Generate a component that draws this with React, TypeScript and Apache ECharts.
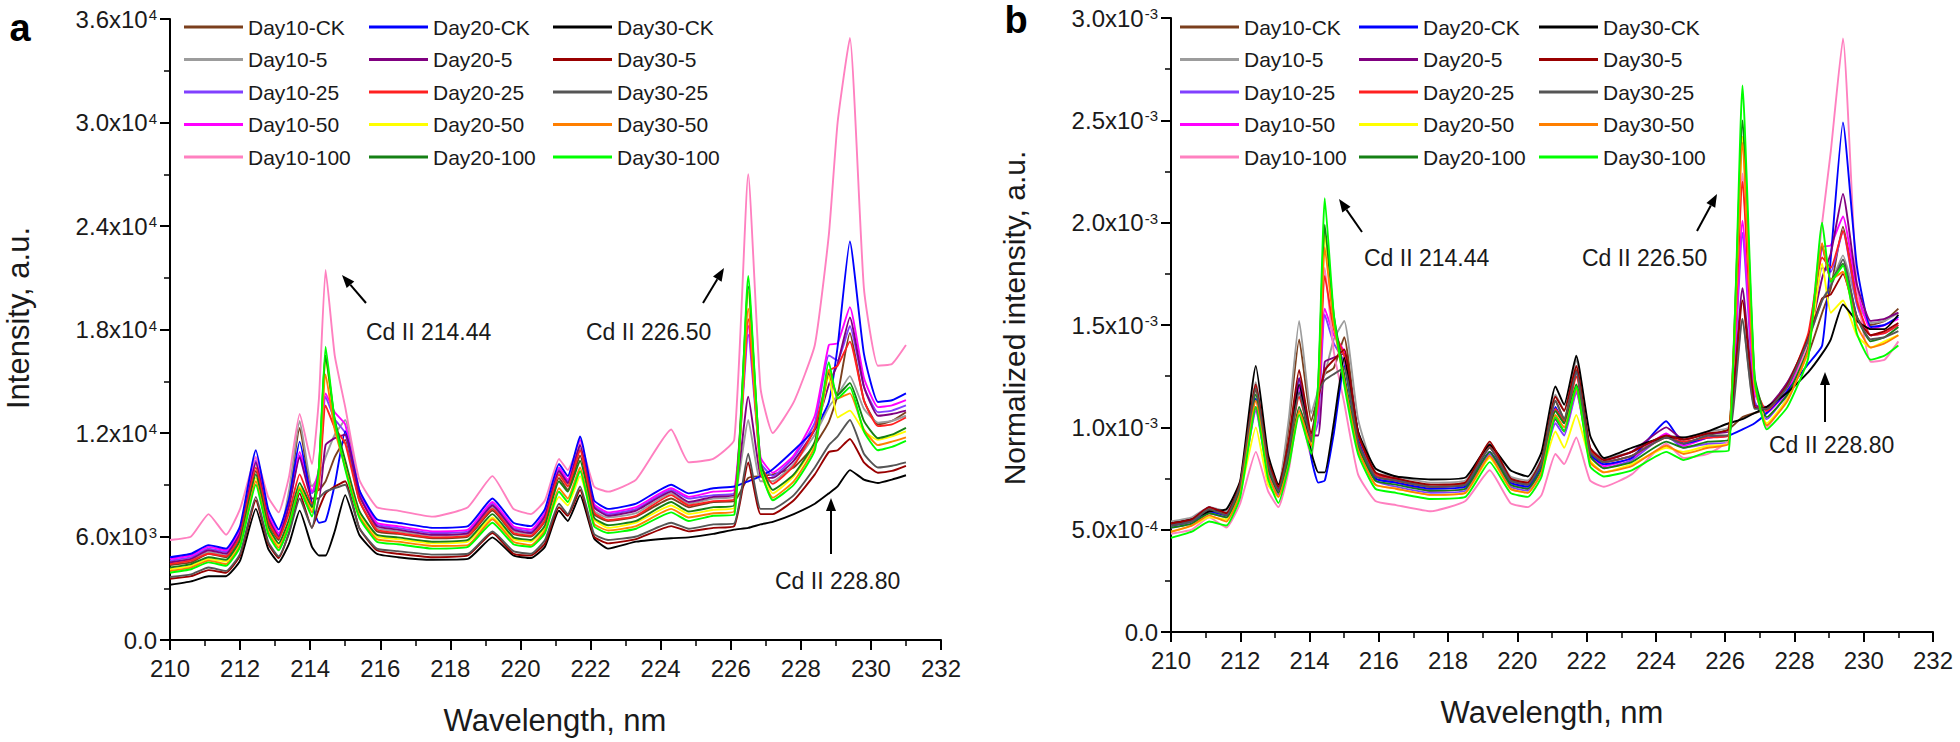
import React, { useEffect, useRef } from "react";
import * as echarts from "echarts";

// Wavelength grid (nm) shared by all series
const WAVELENGTHS = [210.0, 210.6, 211.1, 211.6, 212.0, 212.45, 212.8, 213.1, 213.4, 213.7, 214.05, 214.25, 214.44, 214.7, 215.0, 215.4, 215.9, 216.5, 217.5, 218.5, 219.2, 219.8, 220.3, 220.7, 221.1, 221.35, 221.7, 222.1, 222.5, 223.3, 224.3, 224.8, 225.5, 226.1, 226.5, 226.85, 227.2, 227.8, 228.4, 228.8, 229.05, 229.4, 229.8, 230.2, 230.6, 231.0];

const SERIES_NAMES = ["Day10-CK", "Day10-5", "Day10-25", "Day10-50", "Day10-100", "Day20-CK", "Day20-5", "Day20-25", "Day20-50", "Day20-100", "Day30-CK", "Day30-5", "Day30-25", "Day30-50", "Day30-100"];
const SERIES_COLORS = ["#7b3f1d", "#9c9c9c", "#8040ff", "#ff00ff", "#ff80c0", "#0000ff", "#800080", "#ff2020", "#ffff00", "#158015", "#000000", "#990000", "#555555", "#ff7f00", "#00ff00"];

// Panel a: intensity, in units of 10^3 a.u.
const A_DAY10_CK = [4.35, 4.5, 5.0, 4.8, 6.0, 9.8, 6.8, 5.8, 8.4, 12.3, 8.6, 8.7, 9.2, 10.6, 11.6, 8.1, 6.3, 6.15, 5.9, 6.0, 7.5, 6.15, 6.0, 6.9, 9.4, 8.7, 10.7, 7.3, 6.9, 7.15, 8.2, 7.7, 8.0, 8.05, 9.4, 9.5, 9.6, 10.0, 11.3, 12.65, 14.2, 17.8, 13.9, 12.5, 12.7, 13.2];
const A_DAY10_5 = [4.5, 4.65, 5.1, 4.9, 6.1, 10.2, 7.05, 6.0, 8.7, 12.7, 8.9, 9.5, 10.6, 11.9, 12.75, 8.7, 6.5, 6.3, 6.05, 6.15, 7.7, 6.3, 6.15, 7.1, 9.7, 9.0, 11.1, 7.5, 7.1, 7.35, 8.5, 7.9, 8.2, 8.3, 12.75, 9.2, 9.2, 10.2, 11.9, 13.5, 14.2, 15.3, 13.4, 12.6, 12.7, 13.0];
const A_DAY10_25 = [4.6, 4.8, 5.3, 5.1, 6.3, 10.4, 7.2, 6.1, 7.9, 10.7, 8.5, 9.4, 14.1, 12.8, 12.0, 8.5, 6.7, 6.5, 6.2, 6.3, 7.9, 6.5, 6.3, 7.3, 9.9, 9.2, 11.4, 7.8, 7.3, 7.6, 8.7, 8.2, 8.4, 8.5, 17.7, 10.3, 9.5, 10.6, 12.6, 16.5, 16.2, 18.2, 14.7, 13.2, 13.3, 13.6];
const A_DAY10_50 = [4.7, 4.9, 5.4, 5.2, 6.4, 10.6, 7.3, 6.2, 8.1, 10.9, 8.6, 9.9, 14.3, 13.2, 12.5, 8.7, 6.8, 6.6, 6.3, 6.4, 8.0, 6.6, 6.4, 7.4, 10.0, 9.3, 11.6, 7.9, 7.4, 7.7, 8.8, 8.3, 8.6, 8.7, 18.2, 10.6, 9.7, 10.7, 13.0, 17.1, 17.2, 19.3, 15.2, 13.5, 13.6, 13.9];
const A_DAY10_100 = [5.8, 6.0, 7.3, 6.1, 7.6, 10.6, 8.3, 7.4, 9.5, 13.1, 10.2, 14.0, 21.45, 16.5, 13.5, 9.3, 7.7, 7.5, 7.15, 7.7, 9.5, 7.6, 7.3, 8.1, 10.5, 9.85, 11.4, 8.9, 8.6, 9.3, 12.2, 10.3, 10.5, 11.6, 27.0, 14.6, 12.0, 13.8, 17.1, 23.5, 30.0, 34.9, 20.4, 15.9, 16.0, 17.1];
const A_DAY20_CK = [4.8, 5.0, 5.5, 5.3, 6.6, 11.0, 7.6, 6.4, 8.2, 11.5, 7.9, 6.8, 6.9, 9.0, 12.1, 8.7, 7.0, 6.8, 6.5, 6.6, 8.2, 6.8, 6.6, 7.6, 10.2, 9.5, 11.8, 8.1, 7.6, 7.9, 9.0, 8.5, 8.8, 8.9, 9.2, 9.5, 9.9, 11.0, 12.2, 13.8, 17.0, 23.1, 16.6, 13.8, 13.9, 14.3];
const A_DAY20_5 = [4.5, 4.7, 5.2, 5.0, 6.2, 10.3, 7.1, 6.0, 7.8, 10.6, 8.2, 8.2, 11.3, 11.7, 11.9, 8.4, 6.6, 6.4, 6.1, 6.2, 7.8, 6.4, 6.2, 7.2, 9.8, 9.1, 11.3, 7.7, 7.2, 7.5, 8.6, 8.0, 8.3, 8.4, 14.1, 9.5, 9.4, 10.4, 12.2, 14.8, 16.0, 18.7, 14.7, 13.0, 13.1, 13.3];
const A_DAY20_25 = [4.4, 4.6, 5.0, 4.85, 6.0, 10.0, 6.9, 5.9, 7.4, 9.6, 7.9, 9.0, 13.6, 12.3, 11.4, 8.1, 6.4, 6.2, 5.95, 6.05, 7.6, 6.2, 6.05, 6.95, 9.6, 8.9, 11.0, 7.4, 6.95, 7.2, 8.4, 7.8, 8.05, 8.15, 18.6, 10.2, 9.05, 10.1, 12.3, 15.6, 15.9, 17.3, 13.9, 12.4, 12.5, 12.9];
const A_DAY20_50 = [4.1, 4.3, 4.7, 4.55, 5.7, 9.4, 6.5, 5.5, 6.9, 8.9, 7.6, 9.9, 16.4, 12.7, 10.3, 7.4, 6.0, 5.85, 5.6, 5.7, 7.1, 5.85, 5.7, 6.5, 8.3, 7.8, 9.5, 7.0, 6.5, 6.8, 7.8, 7.3, 7.55, 7.65, 20.2, 10.2, 8.5, 9.5, 11.4, 15.3, 12.9, 13.3, 12.1, 11.6, 11.8, 12.1];
const A_DAY20_100 = [4.2, 4.4, 4.8, 4.65, 5.8, 9.6, 6.6, 5.6, 7.0, 9.1, 7.7, 10.0, 16.5, 12.8, 10.4, 7.5, 6.1, 5.95, 5.7, 5.8, 7.3, 5.95, 5.8, 6.65, 9.2, 8.6, 10.4, 7.1, 6.65, 6.9, 8.0, 7.45, 7.7, 7.8, 20.5, 10.3, 8.7, 9.6, 11.5, 15.5, 14.2, 14.9, 12.7, 11.7, 11.9, 12.3];
const A_DAY30_CK = [3.2, 3.4, 3.7, 3.7, 4.6, 7.6, 5.3, 4.5, 5.6, 7.5, 5.4, 4.9, 4.9, 6.3, 8.4, 6.1, 5.0, 4.8, 4.65, 4.7, 5.95, 4.9, 4.75, 5.4, 7.5, 6.9, 8.4, 5.9, 5.3, 5.7, 5.9, 5.95, 6.15, 6.4, 6.5, 6.7, 6.85, 7.3, 7.9, 8.5, 8.9, 9.85, 9.3, 9.1, 9.3, 9.55];
const A_DAY30_5 = [3.55, 3.7, 4.05, 3.9, 4.9, 8.1, 5.6, 4.75, 6.25, 8.5, 6.5, 7.6, 8.5, 8.9, 9.2, 6.5, 5.2, 5.0, 4.8, 4.9, 6.2, 5.0, 4.9, 5.6, 7.7, 7.2, 8.7, 6.0, 5.6, 5.85, 6.6, 6.3, 6.5, 6.6, 10.3, 7.3, 7.3, 8.1, 9.6, 10.9, 11.0, 11.65, 10.3, 9.7, 9.8, 10.1];
const A_DAY30_25 = [3.65, 3.8, 4.2, 4.0, 5.0, 8.3, 5.7, 4.85, 6.2, 8.2, 6.5, 8.2, 8.6, 8.8, 9.0, 6.5, 5.3, 5.15, 4.95, 5.0, 6.3, 5.15, 5.0, 5.8, 7.9, 7.3, 8.9, 6.15, 5.8, 6.0, 6.8, 6.45, 6.7, 6.75, 10.8, 7.6, 7.6, 8.4, 10.0, 11.3, 11.8, 12.75, 10.8, 10.0, 10.1, 10.3];
const A_DAY30_50 = [4.0, 4.2, 4.6, 4.4, 5.5, 9.2, 6.3, 5.35, 6.7, 8.8, 7.4, 9.4, 15.4, 12.2, 10.0, 7.2, 5.85, 5.7, 5.45, 5.5, 7.0, 5.7, 5.5, 6.35, 8.8, 8.2, 10.0, 6.75, 6.35, 6.6, 7.6, 7.1, 7.35, 7.45, 19.2, 9.8, 8.25, 9.2, 11.2, 15.65, 14.0, 14.3, 12.2, 11.3, 11.5, 11.75];
const A_DAY30_100 = [3.9, 4.1, 4.5, 4.3, 5.4, 9.0, 6.15, 5.2, 6.6, 8.7, 7.15, 10.0, 17.0, 12.7, 9.9, 7.1, 5.7, 5.55, 5.3, 5.4, 6.8, 5.55, 5.4, 6.2, 8.6, 8.0, 9.8, 6.6, 6.2, 6.45, 7.4, 6.9, 7.2, 7.25, 21.1, 10.0, 8.1, 9.0, 11.0, 16.1, 14.0, 14.65, 12.1, 11.0, 11.2, 11.55];

// Panel b: normalized intensity, in units of 10^-4 a.u.
const B_DAY10_CK = [5.2, 5.4, 6.0, 5.8, 7.2, 11.8, 8.2, 7.0, 10.1, 14.3, 10.3, 11.6, 12.6, 12.9, 14.4, 9.7, 7.6, 7.4, 7.1, 7.2, 9.0, 7.4, 7.2, 8.3, 11.3, 10.4, 12.8, 8.8, 8.3, 8.6, 9.6, 9.2, 9.6, 9.9, 10.5, 10.7, 10.9, 12.0, 13.6, 15.6, 16.8, 19.8, 16.5, 15.0, 15.2, 15.8];
const B_DAY10_5 = [5.4, 5.6, 6.1, 5.9, 7.3, 12.2, 8.5, 7.2, 10.4, 15.2, 10.7, 11.8, 12.6, 14.3, 15.2, 10.4, 7.8, 7.6, 7.3, 7.4, 9.2, 7.6, 7.4, 8.5, 11.6, 10.8, 13.3, 9.0, 8.5, 8.8, 9.6, 9.5, 9.8, 10.0, 15.3, 11.0, 11.0, 12.2, 14.3, 16.2, 17.0, 18.4, 16.1, 15.1, 15.2, 15.6];
const B_DAY10_25 = [5.1, 5.3, 5.8, 5.6, 6.9, 10.8, 7.7, 6.7, 8.7, 11.8, 9.3, 10.3, 15.5, 14.1, 13.2, 9.3, 7.4, 7.1, 6.8, 6.9, 8.7, 7.1, 6.9, 8.0, 10.2, 9.6, 11.7, 8.6, 8.0, 8.4, 9.6, 9.0, 9.2, 9.3, 19.5, 11.3, 10.4, 11.7, 13.9, 17.8, 17.6, 19.6, 16.0, 14.5, 14.6, 15.0];
const B_DAY10_50 = [5.2, 5.4, 5.9, 5.7, 7.0, 10.9, 7.8, 6.8, 8.9, 12.0, 9.5, 10.9, 15.8, 14.5, 13.7, 9.6, 7.5, 7.3, 6.9, 7.0, 8.8, 7.3, 7.0, 8.1, 10.4, 9.8, 11.8, 8.7, 8.1, 8.5, 9.7, 9.1, 9.5, 9.6, 20.1, 11.7, 10.7, 11.8, 14.3, 18.8, 18.9, 20.3, 16.7, 14.8, 15.0, 15.3];
const B_DAY10_100 = [4.8, 5.0, 5.6, 5.1, 6.3, 8.8, 6.9, 6.1, 7.9, 10.9, 8.5, 11.6, 17.8, 13.7, 11.2, 7.7, 6.4, 6.2, 5.9, 6.4, 7.9, 6.3, 6.1, 6.7, 8.7, 8.2, 9.5, 7.4, 7.1, 7.7, 9.2, 8.5, 8.7, 9.4, 22.4, 12.1, 10.0, 11.5, 14.2, 20.0, 23.5, 29.0, 16.9, 13.2, 13.3, 14.2];
const B_DAY20_CK = [5.2, 5.4, 5.9, 5.7, 7.1, 11.4, 8.2, 6.9, 8.8, 12.4, 8.5, 7.3, 7.4, 9.7, 13.0, 9.4, 7.5, 7.3, 7.0, 7.1, 8.8, 7.3, 7.1, 8.2, 11.0, 10.2, 12.7, 8.7, 8.2, 8.5, 10.3, 9.2, 9.5, 9.6, 9.9, 10.2, 10.7, 11.8, 13.1, 14.0, 18.3, 24.9, 17.9, 14.9, 15.0, 15.4];
const B_DAY20_5 = [5.3, 5.5, 6.1, 5.8, 7.2, 11.0, 8.1, 7.0, 9.1, 12.4, 9.6, 9.6, 13.2, 13.4, 13.6, 9.8, 7.7, 7.5, 7.1, 7.2, 9.1, 7.5, 7.2, 8.4, 10.4, 9.8, 12.0, 9.0, 8.4, 8.8, 10.0, 9.4, 9.7, 9.8, 16.8, 11.1, 11.0, 12.2, 14.3, 17.3, 18.5, 21.4, 17.0, 15.2, 15.3, 15.6];
const B_DAY20_25 = [5.3, 5.5, 6.0, 5.8, 7.2, 12.0, 8.3, 7.1, 8.9, 11.5, 9.5, 11.2, 17.4, 14.8, 13.5, 9.7, 7.7, 7.4, 7.1, 7.3, 9.1, 7.4, 7.3, 8.3, 10.9, 10.3, 12.5, 8.9, 8.3, 8.6, 9.5, 9.3, 9.5, 9.6, 22.0, 12.1, 10.8, 12.0, 14.6, 18.3, 17.8, 19.6, 16.2, 14.5, 14.6, 15.0];
const B_DAY20_50 = [4.9, 5.2, 5.6, 5.5, 6.8, 10.0, 7.2, 6.6, 8.3, 10.7, 9.1, 11.9, 19.5, 15.2, 12.4, 8.9, 7.2, 7.0, 6.7, 6.8, 8.5, 7.0, 6.8, 7.8, 9.8, 9.0, 10.6, 8.4, 7.8, 8.2, 9.0, 8.8, 9.1, 9.2, 24.2, 12.2, 10.2, 11.4, 13.7, 18.0, 15.6, 16.2, 14.5, 13.9, 14.2, 14.5];
const B_DAY20_100 = [5.1, 5.3, 5.8, 5.6, 7.0, 11.6, 8.0, 6.8, 8.5, 11.0, 9.3, 12.1, 19.9, 15.5, 12.6, 9.1, 7.4, 7.2, 6.9, 7.0, 8.8, 7.2, 7.0, 8.0, 10.8, 10.2, 12.1, 8.6, 8.0, 8.3, 9.3, 9.0, 9.3, 9.4, 25.0, 12.5, 10.5, 11.6, 13.9, 18.9, 17.2, 18.0, 15.4, 14.2, 14.4, 14.9];
const B_DAY30_CK = [5.3, 5.5, 5.9, 6.0, 7.4, 13.0, 8.7, 7.2, 9.0, 12.1, 8.8, 7.8, 7.8, 10.2, 13.4, 9.8, 8.0, 7.6, 7.45, 7.55, 9.15, 7.9, 7.6, 8.8, 12.0, 11.1, 13.5, 9.6, 8.5, 9.0, 9.5, 9.5, 9.8, 10.2, 10.4, 10.7, 11.0, 11.7, 12.7, 13.6, 14.3, 16.0, 15.2, 14.8, 14.8, 15.5];
const B_DAY30_5 = [5.3, 5.5, 6.1, 5.8, 7.3, 12.1, 8.4, 7.1, 9.4, 12.8, 9.7, 11.4, 12.8, 13.3, 13.8, 9.7, 7.8, 7.5, 7.2, 7.3, 9.3, 7.5, 7.3, 8.4, 11.5, 10.8, 13.0, 9.0, 8.4, 8.8, 9.6, 9.4, 9.7, 9.9, 16.2, 11.0, 10.9, 12.1, 14.4, 16.3, 16.5, 17.5, 15.4, 14.5, 14.7, 15.1];
const B_DAY30_25 = [5.2, 5.4, 6.0, 5.7, 7.2, 11.9, 8.2, 6.9, 8.9, 11.7, 9.3, 11.7, 12.3, 12.6, 12.9, 9.3, 7.6, 7.4, 7.1, 7.2, 9.0, 7.4, 7.2, 8.3, 11.3, 10.4, 12.7, 8.8, 8.3, 8.6, 9.5, 9.2, 9.6, 9.6, 15.3, 10.9, 10.9, 12.0, 14.3, 16.2, 16.9, 18.2, 15.4, 14.3, 14.4, 14.7];
const B_DAY30_50 = [4.9, 5.2, 5.7, 5.4, 6.8, 11.3, 7.7, 6.6, 8.2, 10.8, 9.1, 11.6, 18.8, 15.0, 12.3, 8.9, 7.2, 7.0, 6.7, 6.8, 8.6, 7.0, 6.8, 7.8, 10.6, 10.0, 11.9, 8.3, 7.8, 8.1, 9.1, 8.7, 9.0, 9.2, 23.9, 12.1, 10.1, 11.3, 13.8, 19.0, 17.2, 17.6, 15.0, 13.9, 14.1, 14.5];
const B_DAY30_100 = [4.6, 4.9, 5.4, 5.2, 6.6, 11.0, 7.5, 6.3, 8.1, 10.6, 8.7, 12.2, 21.2, 15.5, 12.1, 8.7, 7.0, 6.8, 6.5, 6.6, 8.3, 6.8, 6.6, 7.6, 10.5, 9.8, 12.0, 8.1, 7.6, 7.9, 8.8, 8.4, 8.8, 8.85, 26.7, 12.4, 9.9, 11.0, 13.4, 20.0, 17.1, 17.9, 14.6, 13.3, 13.5, 14.0];

const PANEL_A = [A_DAY10_CK, A_DAY10_5, A_DAY10_25, A_DAY10_50, A_DAY10_100, A_DAY20_CK, A_DAY20_5, A_DAY20_25, A_DAY20_50, A_DAY20_100, A_DAY30_CK, A_DAY30_5, A_DAY30_25, A_DAY30_50, A_DAY30_100];
const PANEL_B = [B_DAY10_CK, B_DAY10_5, B_DAY10_25, B_DAY10_50, B_DAY10_100, B_DAY20_CK, B_DAY20_5, B_DAY20_25, B_DAY20_50, B_DAY20_100, B_DAY30_CK, B_DAY30_5, B_DAY30_25, B_DAY30_50, B_DAY30_100];

// Tick labels
const X_TICKS = [210, 212, 214, 216, 218, 220, 222, 224, 226, 228, 230, 232];
const X_TICK_LABELS = ["210", "212", "214", "216", "218", "220", "222", "224", "226", "228", "230", "232"];
const Y_TICKS_A = [0, 6, 12, 18, 24, 30, 36];
const Y_TICK_LABELS_A = ["0.0", "6.0x10{s|3}", "1.2x10{s|4}", "1.8x10{s|4}", "2.4x10{s|4}", "3.0x10{s|4}", "3.6x10{s|4}"];
const Y_TICKS_B = [0, 5, 10, 15, 20, 25, 30];
const Y_TICK_LABELS_B = ["0.0", "5.0x10{s|-4}", "1.0x10{s|-3}", "1.5x10{s|-3}", "2.0x10{s|-3}", "2.5x10{s|-3}", "3.0x10{s|-3}"];

const FONT = '"Liberation Sans", Arial, Helvetica, sans-serif';
const INK = "#1a1a1a";

function lookup(ticks: number[], labels: string[], v: number) {
  const i = ticks.findIndex((t) => Math.abs(t - v) < 1e-6);
  return i >= 0 ? labels[i] : "";
}

function xAxis(gridIndex: number) {
  return {
    type: "value",
    gridIndex,
    min: 210,
    max: 232,
    interval: 2,
    axisLine: { show: true, onZero: false, lineStyle: { color: "#000", width: 2 } },
    axisTick: { show: true, length: 10, lineStyle: { color: "#000", width: 2 } },
    minorTick: { show: true, splitNumber: 2, length: 6, lineStyle: { color: "#000", width: 1.5 } },
    splitLine: { show: false },
    minorSplitLine: { show: false },
    axisLabel: {
      fontSize: 24,
      fontFamily: FONT,
      color: INK,
      margin: 16,
      formatter: (v: number) => lookup(X_TICKS, X_TICK_LABELS, v),
    },
  };
}

function yAxis(gridIndex: number, max: number, interval: number, ticks: number[], labels: string[]) {
  return {
    type: "value",
    gridIndex,
    min: 0,
    max,
    interval,
    axisLine: { show: true, onZero: false, lineStyle: { color: "#000", width: 2 } },
    axisTick: { show: true, length: 10, lineStyle: { color: "#000", width: 2 } },
    minorTick: { show: true, splitNumber: 2, length: 6, lineStyle: { color: "#000", width: 1.5 } },
    splitLine: { show: false },
    minorSplitLine: { show: false },
    axisLabel: {
      fontSize: 24,
      fontFamily: FONT,
      color: INK,
      margin: 13,
      formatter: (v: number) => lookup(ticks, labels, v),
      rich: {
        s: { fontSize: 15, fontFamily: FONT, color: INK, verticalAlign: "top", lineHeight: 15, padding: [0, 0, 10, 1] },
      },
    },
  };
}

function legendBlock(left: number, names: string[]) {
  return {
    show: true,
    orient: "vertical",
    left,
    top: 16,
    padding: 0,
    icon: "rect",
    itemWidth: 59,
    itemHeight: 3,
    itemGap: 10.5,
    selectedMode: false,
    textStyle: { fontSize: 21, fontFamily: FONT, color: INK, lineHeight: 22, height: 22 },
    data: names,
  };
}

function arrow(x1: number, y1: number, x2: number, y2: number) {
  const dx = x2 - x1;
  const dy = y2 - y1;
  const len = Math.sqrt(dx * dx + dy * dy);
  const ux = dx / len;
  const uy = dy / len;
  const hl = 13;
  const hw = 5;
  const bx = x2 - ux * hl;
  const by = y2 - uy * hl;
  return [
    { type: "line", shape: { x1, y1, x2: bx, y2: by }, style: { stroke: "#000", lineWidth: 2 }, z: 100 },
    {
      type: "polygon",
      shape: { points: [[x2, y2], [bx - uy * hw, by + ux * hw], [bx + uy * hw, by - ux * hw]] },
      style: { fill: "#000" },
      z: 100,
    },
  ];
}

function label(text: string, x: number, y: number, size: number, opts: any = {}) {
  return {
    type: "text",
    x,
    y,
    rotation: opts.rotation || 0,
    z: 100,
    style: {
      text,
      fontSize: size,
      fontFamily: FONT,
      fontWeight: opts.bold ? "bold" : "normal",
      fill: opts.color || INK,
      align: opts.align || "left",
      verticalAlign: "middle",
      textAlign: opts.align || "left",
      textVerticalAlign: "middle",
    },
  };
}

export default function App() {
  const ref = useRef<HTMLDivElement>(null);

  useEffect(() => {
    document.body.style.margin = "0";
    if (!ref.current) return;
    const chart = echarts.init(ref.current, undefined, { renderer: "svg" });

    const series: any[] = [];
    [PANEL_A, PANEL_B].forEach((panel, p) => {
      panel.forEach((values, k) => {
        series.push({
          name: SERIES_NAMES[k],
          type: "line",
          xAxisIndex: p,
          yAxisIndex: p,
          data: values.map((v, i) => [WAVELENGTHS[i], v]),
          showSymbol: false,
          symbol: "none",
          smooth: 0.15,
          lineStyle: { width: 1.9, color: SERIES_COLORS[k] },
          itemStyle: { color: SERIES_COLORS[k] },
          emphasis: { disabled: true },
          z: 2 + k * 0.01,
        });
      });
    });

    const col1 = SERIES_NAMES.slice(0, 5);
    const col2 = SERIES_NAMES.slice(5, 10);
    const col3 = SERIES_NAMES.slice(10, 15);

    const graphic: any[] = [
      label("a", 20, 28, 38, { bold: true, align: "center", color: "#000" }),
      label("b", 1016, 20, 38, { bold: true, align: "center", color: "#000" }),
      label("Intensity, a.u.", 18, 318, 31, { align: "center", rotation: Math.PI / 2 }),
      label("Normalized intensity, a.u.", 1014, 318, 30, { align: "center", rotation: Math.PI / 2 }),
      label("Wavelength, nm", 555, 720, 31, { align: "center" }),
      label("Wavelength, nm", 1552, 712, 31, { align: "center" }),
      label("Cd II 214.44", 366, 332, 23),
      label("Cd II 226.50", 586, 332, 23),
      label("Cd II 228.80", 775, 581, 23),
      label("Cd II 214.44", 1364, 258, 23),
      label("Cd II 226.50", 1582, 258, 23),
      label("Cd II 228.80", 1769, 445, 23),
      ...arrow(366, 303, 342, 275),
      ...arrow(703, 303, 724, 268),
      ...arrow(831, 554, 831, 498),
      ...arrow(1362, 232, 1339, 199),
      ...arrow(1697, 231, 1717, 194),
      ...arrow(1825, 422, 1825, 372),
    ];

    chart.setOption({
      animation: false,
      backgroundColor: "#ffffff",
      grid: [
        { left: 170, top: 19, width: 771, height: 621 },
        { left: 1171, top: 18, width: 762, height: 614 },
      ],
      xAxis: [xAxis(0), xAxis(1)],
      yAxis: [
        yAxis(0, 36, 6, Y_TICKS_A, Y_TICK_LABELS_A),
        yAxis(1, 30, 5, Y_TICKS_B, Y_TICK_LABELS_B),
      ],
      legend: [
        legendBlock(184, col1),
        legendBlock(369, col2),
        legendBlock(553, col3),
        legendBlock(1180, col1),
        legendBlock(1359, col2),
        legendBlock(1539, col3),
      ],
      series,
      graphic,
    });

    return () => chart.dispose();
  }, []);

  return <div ref={ref} style={{ width: 1960, height: 742 }} />;
}
